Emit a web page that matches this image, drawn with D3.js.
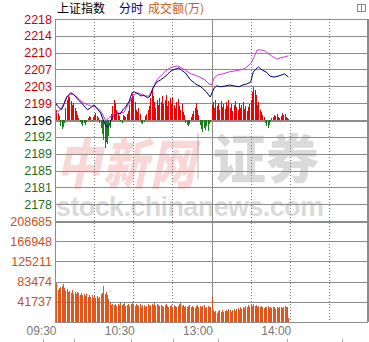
<!DOCTYPE html>
<html>
<head>
<meta charset="utf-8">
<script src="https://cdn.jsdelivr.net/npm/d3@7"></script>
<style>
  body { margin: 0; background: #fff; }
  svg { display: block; }
  text { font-family: Arial, "Liberation Sans", sans-serif; }
</style>
</head>
<body>
<div id="chart"><svg></svg></div>
<script>
// price grid (index points) and its labels
const priceTicks = [2218.2, 2214.55, 2210.9, 2207.25, 2203.6, 2199.95, 2196.3, 2192.65, 2189.0, 2185.35, 2181.7, 2178.05]
const preClose = 2196.3
// volume grid (万)
const volTicks = [208685, 166948, 125211, 83474, 41737]
const timeTicks = [0, 60, 120, 180]
const timeLabels = ['09:30', '10:30', '13:00', '14:00']

// 上证指数 [minute, value]
const indexLine = [
  [0,2200.2],[2,2199.3],[5,2198.5],[7,2199.8],[9,2201.3],[12,2202.2],[14,2201.9],[16,2201.3],[18,2200.6],[21,2199.8],
  [23,2199.1],[25,2198.5],[28,2199.1],[30,2199.6],[32,2198.9],[35,2197.8],[37,2196.3],[39,2195.0],[41,2194.8],[43,2196.3],
  [45,2197.2],[48,2197.8],[50,2197.6],[52,2198.5],[54,2199.1],[57,2200.4],[59,2202.2],[61,2202.4],[64,2201.9],[66,2201.5],
  [68,2201.7],[71,2201.1],[73,2201.5],[75,2203.2],[78,2204.5],[81,2205.0],[83,2205.4],[86,2206.1],[88,2206.7],[90,2207.1],
  [93,2207.4],[95,2207.6],[97,2207.1],[100,2206.5],[104,2205.0],[107,2204.3],[109,2203.9],[111,2203.7],[113,2203.2],[116,2202.4],
  [119,2201.3],[122,2203.2],[124,2203.7],[127,2203.5],[131,2203.7],[134,2203.9],[137,2203.7],[141,2203.5],[144,2203.9],[147,2204.1],
  [150,2204.5],[152,2206.7],[155,2207.6],[156,2207.8],[159,2207.1],[162,2206.7],[165,2205.8],[168,2205.6],[171,2205.8],[174,2206.1],
  [176,2206.3],[179,2205.6]
]
// 领先指标 [minute, value]
const leadLine = [
  [0,2197.8],[2,2198.0],[5,2198.9],[7,2200.0],[9,2201.3],[12,2201.9],[14,2201.9],[16,2201.5],[19,2200.6],[22,2200.0],
  [25,2199.6],[28,2199.3],[31,2199.1],[35,2198.3],[37,2197.2],[39,2196.1],[41,2196.7],[44,2197.4],[47,2197.8],[50,2197.8],
  [53,2198.0],[55,2199.1],[58,2200.6],[60,2201.7],[63,2202.2],[66,2201.9],[69,2201.5],[72,2201.5],[75,2203.0],[78,2205.0],
  [81,2205.8],[84,2206.7],[87,2207.4],[90,2207.8],[94,2208.0],[97,2207.6],[100,2207.1],[104,2206.3],[107,2206.1],[111,2205.6],
  [115,2205.0],[118,2204.1],[120,2203.9],[122,2205.4],[125,2206.1],[129,2206.3],[133,2206.7],[137,2206.9],[141,2207.1],[145,2207.4],
  [148,2208.0],[151,2208.9],[153,2210.2],[155,2211.5],[158,2211.5],[161,2211.3],[164,2210.6],[167,2210.0],[170,2209.5],[173,2209.8],
  [176,2210.0],[179,2210.2]
]
// 红绿柱, one per minute
const power = [
  8,10,7,4,-6,-9,-7,-3,12,20, 24,23,19,15,17,12,9,5,2,-2,
  -4,-6,-3,-5,-2,2,4,3,-1,3, 5,7,4,2,-3,-8,-14,-20,-28,-22,
  -24,-16,-8,6,14,20,17,10,6,4, -2,-3,5,4,3,6,9,15,22,26,
  24,18,10,8,12,6,-3,-4,-2,4, 6,10,14,22,30,24,18,12,20,15,
  22,18,24,16,20,25,14,19,22,17, 23,15,12,18,21,14,10,16,8,5,
  -3,-5,-6,-4,3,6,9,12,17,10, 5,-5,-9,-12,-8,-10,-6,-11,-4,-2,
  15,18,12,20,14,17,10,19,13,16, 11,18,14,20,12,16,9,15,19,13,
  10,17,12,15,18,11,14,9,13,16, 20,28,33,30,25,15,18,10,8,5,
  3,-3,-6,-8,-5,-2,2,3,5,4, 6,3,2,4,7,5,6,3,2,1
]
// 成交额 (万), one per minute
const volume = [
  190000,80000,66000,70000,72000,74000,79000,71000,65000,69000,
  62000,64000,60000,66000,58000,61000,57000,63000,59000,55000,
  60000,56000,58000,54000,57000,52000,55000,51000,56000,50000,
  53000,49000,54000,50000,52000,57000,60000,74000,58000,62000,
  55000,48000,40000,36000,38000,35000,37000,34000,38000,36000,
  39000,35000,37000,40000,34000,36000,38000,33000,37000,39000,
  36000,34000,38000,35000,33000,37000,32000,35000,36000,31000,
  34000,37000,33000,35000,38000,36000,39000,34000,37000,35000,
  33000,36000,34000,32000,35000,38000,33000,31000,34000,36000,
  32000,35000,33000,31000,34000,37000,40000,33000,35000,32000,
  34000,30000,33000,36000,31000,34000,32000,29000,33000,35000,
  31000,34000,30000,33000,35000,29000,32000,34000,31000,30000,
  52000,24000,20000,23000,19000,22000,25000,21000,24000,20000,
  23000,25000,22000,26000,24000,21000,25000,27000,23000,26000,
  28000,25000,30000,27000,32000,29000,33000,31000,35000,32000,
  36000,34000,37000,33000,35000,31000,34000,30000,33000,31000,
  29000,32000,30000,33000,28000,31000,29000,32000,30000,27000,
  31000,29000,32000,30000,28000,31000,33000,30000,32000,8000
]

const W = 369, H = 342
const pLeft = 55, pRight = 368, pTop = 19, pMid = 221, pBottom = 322

const svg = d3.select('#chart svg').attr('width', W).attr('height', H)

const x = d3.scaleLinear().domain([0, 240]).range([pLeft, pRight])
const y = d3.scaleLinear().domain([2174.4, 2218.2]).range([pMid, pTop])
const yp = d3.scaleLinear().domain([-101, 101]).range([pMid, pTop])
const yv = d3.scaleLinear().domain([0, 208685]).range([pBottom, pMid])

// 标题
const title = svg.append('text').attr('x', 57).attr('y', 13)
  .style('font-family', '"Noto Sans CJK SC", sans-serif').style('font-size', '12px')
title.append('tspan').attr('fill', '#000').text('上证指数')
title.append('tspan').attr('dx', 14).attr('fill', '#000080').text('分时')
title.append('tspan').attr('dx', 5).attr('fill', '#c8601e').text('成交额(万)')

// icon top right
svg.append('rect').attr('x', 357.5).attr('y', 4.5).attr('width', 8).attr('height', 7)
  .attr('fill', 'none').attr('stroke', '#888')
svg.append('line').attr('x1', 361.5).attr('x2', 361.5).attr('y1', 4.5).attr('y2', 11.5).attr('stroke', '#888')

// watermark
const wm = svg.append('g').attr('class', 'watermark')
wm.append('text').attr('transform', 'translate(56,184) scale(1,1.2)')
  .style('font-family', '"Noto Sans CJK SC", sans-serif').style('font-size', '45px')
  .style('font-weight', 900).style('font-style', 'italic').style('letter-spacing', '2px')
  .attr('fill', 'rgba(240,140,140,0.35)').text('中新网')
wm.append('rect').attr('x', 197).attr('y', 133).attr('width', 2).attr('height', 46)
  .attr('fill', 'rgba(150,150,150,0.35)')
wm.append('text').attr('x', 213).attr('y', 179)
  .style('font-family', '"Noto Sans CJK SC", sans-serif').style('font-size', '53px')
  .style('font-weight', 900).attr('fill', 'rgba(150,150,150,0.35)').text('证券')
wm.append('text').attr('x', 56).attr('y', 216)
  .style('font-size', '27px').style('font-weight', 'bold')
  .attr('fill', 'rgba(150,150,150,0.35)').attr('textLength', 268).text('stock.chinanews.com')

// 横向网格
const hGrid = svg.append('g').attr('class', 'hgrid').attr('shape-rendering', 'crispEdges')
hGrid.selectAll('line.p').data(priceTicks).enter().append('line')
  .attr('class', 'p')
  .attr('x1', pLeft).attr('x2', pRight)
  .attr('y1', d => Math.round(y(d)) + 0.5).attr('y2', d => Math.round(y(d)) + 0.5)
  .attr('stroke', '#8c8c8c')
  .attr('stroke-width', d => d === preClose ? 2 : 1)
hGrid.selectAll('line.v').data(volTicks).enter().append('line')
  .attr('class', 'v')
  .attr('x1', pLeft).attr('x2', pRight)
  .attr('y1', d => Math.round(yv(d)) + 0.5).attr('y2', d => Math.round(yv(d)) + 0.5)
  .attr('stroke', '#8c8c8c')
  .attr('stroke-width', d => d === volTicks[0] ? 2 : 1)
hGrid.append('line').attr('x1', pLeft).attr('x2', pRight)
  .attr('y1', pBottom + 0.5).attr('y2', pBottom + 0.5).attr('stroke', '#8c8c8c').attr('stroke-width', 1.5)

// 纵向网格
const vTicks = d3.range(0, 241, 30)
svg.append('g').attr('class', 'vgrid').attr('shape-rendering', 'crispEdges')
  .selectAll('line').data(vTicks).enter().append('line')
  .attr('x1', d => Math.round(x(d)) + 0.5).attr('x2', d => Math.round(x(d)) + 0.5)
  .attr('y1', pTop).attr('y2', pBottom)
  .attr('stroke', d => d % 120 === 0 ? '#8c8c8c' : '#777')
  .attr('stroke-dasharray', d => d % 120 === 0 ? null : '1,2')

// 红绿柱
svg.append('g').attr('class', 'power').attr('shape-rendering', 'crispEdges')
  .selectAll('rect').data(power).enter().append('rect')
  .attr('x', (d, i) => x(i))
  .attr('width', 1)
  .attr('y', d => d > 0 ? yp(d) : yp(0))
  .attr('height', d => Math.abs(yp(d) - yp(0)))
  .attr('fill', d => d > 0 ? '#f00000' : '#1a7f1a')

// 成交额柱
svg.append('g').attr('class', 'vol').attr('shape-rendering', 'crispEdges')
  .selectAll('rect').data(volume).enter().append('rect')
  .attr('x', (d, i) => x(i))
  .attr('width', 1)
  .attr('y', d => yv(d))
  .attr('height', d => pBottom - yv(d))
  .attr('fill', '#e2561c')

// 指数线 / 领先线
const line = d3.line().x(d => x(d[0])).y(d => y(d[1]))
svg.append('path').datum(leadLine).attr('d', line)
  .attr('fill', 'none').attr('stroke', '#cc33dd').attr('stroke-width', 1)
svg.append('path').datum(indexLine).attr('d', line)
  .attr('fill', 'none').attr('stroke', '#000066').attr('stroke-width', 1)

// 左轴标签
svg.append('g').attr('class', 'axis axis--price')
  .attr('transform', 'translate(' + (pLeft - 3) + ',0)')
  .call(d3.axisLeft(y).tickValues(priceTicks).tickSize(0).tickPadding(0).tickFormat(d => Math.floor(d)))
  .call(g => g.select('.domain').remove())
  .selectAll('text')
  .style('font-size', '12.5px')
  .attr('fill', d => d > preClose ? '#c8000a' : d === preClose ? '#000' : '#1e6e1e')

svg.append('g').attr('class', 'axis axis--vol')
  .attr('transform', 'translate(' + (pLeft - 3) + ',0)')
  .call(d3.axisLeft(yv).tickValues(volTicks).tickSize(0).tickPadding(0).tickFormat(d => d))
  .call(g => g.select('.domain').remove())
  .selectAll('text')
  .style('font-size', '12.5px')
  .attr('fill', '#c8501e')

// 左边框 右边框
svg.append('line').attr('x1', pLeft + 0.5).attr('x2', pLeft + 0.5).attr('y1', pTop).attr('y2', pBottom)
  .attr('stroke', '#8c8c8c')
svg.append('line').attr('x1', pRight - 0.5).attr('x2', pRight - 0.5).attr('y1', pTop).attr('y2', pBottom)
  .attr('stroke', '#8c8c8c')

// 时间轴
svg.append('g').attr('class', 'axis axis--x')
  .attr('transform', 'translate(0,' + pBottom + ')')
  .call(d3.axisBottom(x).tickValues(timeTicks).tickSize(0).tickPadding(4)
    .tickFormat((d, i) => timeLabels[i]))
  .call(g => g.select('.domain').remove())
  .selectAll('text')
  .style('font-size', '12px')
  .attr('text-anchor', 'end')
  .attr('dx', 1)
  .attr('fill', '#777')

// small marks under the axis
svg.append('g').selectAll('line').data([43, 74, 131, 173, 218, 287, 342]).enter().append('line')
  .attr('x1', d => d + 0.5).attr('x2', d => d + 0.5).attr('y1', 339).attr('y2', 342)
  .attr('stroke', '#aaa')
</script>
</body>
</html>
